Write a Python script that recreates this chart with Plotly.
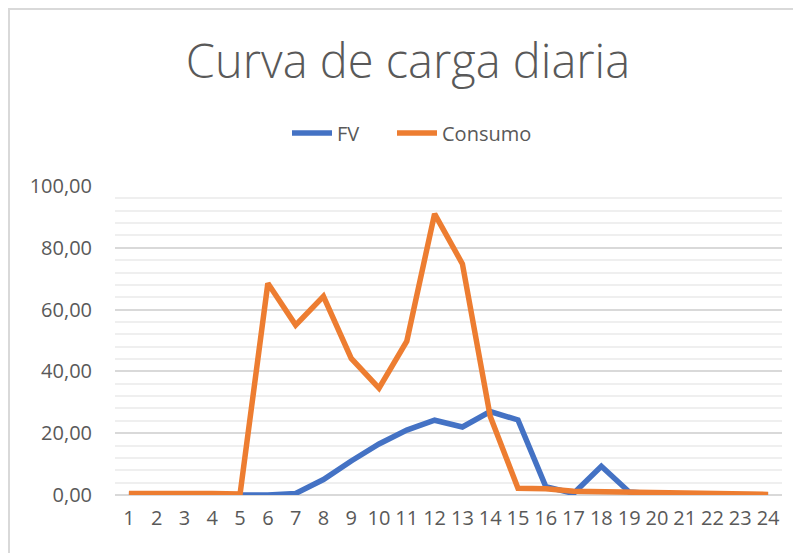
import plotly.graph_objects as go

hours = list(range(1, 25))
fv = [0, 0, 0, 0, 0, 0, 0.5, 5, 11, 16.5, 21, 24.2, 22, 27, 24.3, 2.7,
      0.5, 9.3, 1, 0.3, 0.2, 0.1, 0.1, 0.1]
consumo = [0.5, 0.5, 0.8, 0.5, 0.3, 68.5, 55, 64.3, 44.2, 34.6, 49.8, 91, 74.8, 25.5,
           2.2, 2, 1.2, 1.1, 1, 0.8, 0.5, 0.3, 0.5, 0.2]
title_text = "Curva de carga diaria"
y_ticks = [0, 20, 40, 60, 80, 100]

FONT = "Open Sans"
GREY = "#595959"

# the page body adds an 8px offset; work in screen pixels minus 8
OFF = 8
W, H = 801 - OFF, 553 - OFF
L = 115 - OFF
T = 186 - OFF
R = W - (782 - OFF)
B = H - (495 - OFF)
pw, ph = W - L - R, H - T - B

def px(x):
    return (x - OFF - L) / pw

def py(y):
    return (H - B - (y - OFF)) / ph

fig = go.Figure()
fig.add_trace(go.Scatter(x=hours, y=fv, mode="lines", name="FV",
                         line=dict(color="#4472C4", width=5.5), legend="legend"))
fig.add_trace(go.Scatter(x=hours, y=consumo, mode="lines", name="Consumo",
                         line=dict(color="#ED7D31", width=5.5), legend="legend2"))

fig.add_shape(type="rect", xref="paper", yref="paper",
              x0=px(9), x1=px(812), y0=py(570), y1=py(9),
              line=dict(color="#d9d9d9", width=2), layer="below")

legend_common = dict(orientation="h", xref="container", yref="container",
                     xanchor="left", y=1 - (133 - OFF) / H, yanchor="middle",
                     font=dict(family=FONT, size=20, color=GREY),
                     itemwidth=40, bgcolor="rgba(0,0,0,0)")

fig.update_layout(
    width=W, height=H,
    margin=dict(l=L, r=R, t=T, b=B, autoexpand=False),
    paper_bgcolor="white", plot_bgcolor="white",
    separators=",.",
    font=dict(family=FONT, color=GREY, size=20),
    title=dict(text=title_text, x=(408 - OFF) / W, xanchor="center",
               y=1 - (62 - OFF) / H, yanchor="middle", yref="container",
               font=dict(family=FONT, size=47, color=GREY, weight=300)),
    legend=dict(x=(285 - OFF + 2) / W, **legend_common),
    legend2=dict(x=(285 - OFF + 2 + 105) / W, **legend_common),
    showlegend=True,
)
fig.update_xaxes(range=[0.5, 24.5], tickmode="array", tickvals=hours,
                 ticktext=[str(h) for h in hours], showgrid=False,
                 zeroline=False, showline=False, ticks="",
                 tickfont=dict(size=20, color=GREY), tickangle=0,
                 ticklabelstandoff=9)
fig.update_yaxes(range=[0, 100], tickmode="array", tickvals=y_ticks,
                 tickformat=".2f", showgrid=True, gridcolor="#d9d9d9",
                 gridwidth=1.5, zeroline=True, zerolinecolor="#d9d9d9",
                 zerolinewidth=1.5, showline=False, ticks="",
                 ticklabelstandoff=22,
                 minor=dict(dtick=4, tick0=0, showgrid=True,
                            gridcolor="#efefef", gridwidth=1.5),
                 tickfont=dict(size=20, color=GREY))

fig.write_html("out.html")
